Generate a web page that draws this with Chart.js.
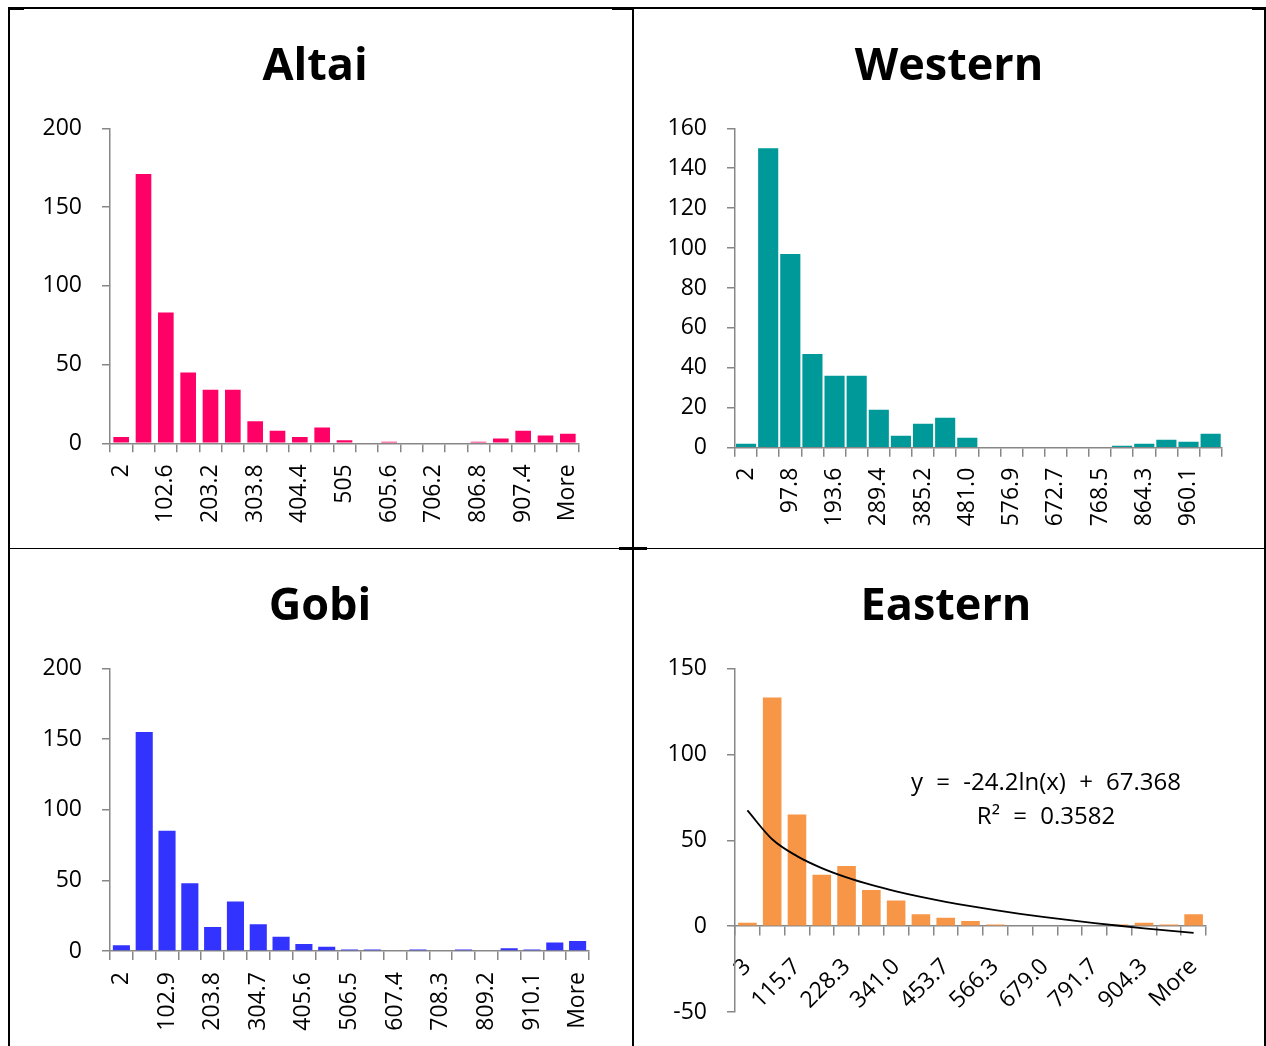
<!DOCTYPE html>
<html>
<head>
<meta charset="utf-8">
<script src="https://cdn.jsdelivr.net/npm/chart.js@4.4.1/dist/chart.umd.min.js"></script>
<style>
  html, body { margin: 0; padding: 0; background: #fff; }
  body { width: 1266px; height: 1046px; position: relative; overflow: hidden; font-family: 'Open Sans', sans-serif; }
  .rule { position: absolute; background: #000; }
  .cell { position: absolute; }
  .cell canvas { display: block; }
</style>
</head>
<body>
<!-- table rules -->
<div class="rule" style="left:8px;top:7px;width:1258px;height:2px"></div>
<div class="rule" style="left:8px;top:7px;width:2px;height:1039px"></div>
<div class="rule" style="left:632px;top:7px;width:2px;height:1039px"></div>
<div class="rule" style="left:1264px;top:7px;width:2px;height:1039px"></div>
<div class="rule" style="left:8px;top:548px;width:1258px;height:1px"></div>
<div class="rule" style="left:10px;top:9px;width:14px;height:1px"></div>
<div class="rule" style="left:612px;top:9px;width:20px;height:1px"></div>
<div class="rule" style="left:1252px;top:9px;width:12px;height:1px"></div>
<div class="rule" style="left:619px;top:547px;width:28px;height:3px"></div>

<div class="cell" style="left:10px;top:9px;width:622px;height:539px"><canvas id="altai"></canvas></div>
<div class="cell" style="left:634px;top:9px;width:630px;height:539px"><canvas id="western"></canvas></div>
<div class="cell" style="left:10px;top:549px;width:622px;height:497px"><canvas id="gobi"></canvas></div>
<div class="cell" style="left:634px;top:549px;width:630px;height:497px"><canvas id="eastern"></canvas></div>

<script>
// ---- histogram bins and counts per region ----
const altaiBins = ['2','52.3','102.6','152.9','203.2','253.5','303.8','354.1','404.4','454.7','505',
  '555.3','605.6','655.9','706.2','756.5','806.8','857.1','907.4','957.7','More'];
const altaiCounts = [4,171,83,45,34,34,14,8,4,10,2,0,1,0,0,0,1,3,8,5,6];

const westernBins = ['2','49.9','97.8','145.7','193.6','241.5','289.4','337.3','385.2','433.1','481.0',
  '529.0','576.9','624.8','672.7','720.6','768.5','816.4','864.3','912.2','960.1','More'];
const westernCounts = [2,150,97,47,36,36,19,6,12,15,5,0,0,0,0,0,0,1,2,4,3,7];

const gobiBins = ['2','52.5','102.9','153.4','203.8','254.3','304.7','355.2','405.6','456.1','506.5',
  '557.0','607.4','657.9','708.3','758.8','809.2','859.7','910.1','960.6','More'];
const gobiCounts = [4,155,85,48,17,35,19,10,5,3,1,1,0,1,0,1,0,2,1,6,7];

const easternBins = ['3','59.3','115.7','172.0','228.3','284.7','341.0','397.3','453.7','510.0',
  '566.3','622.7','679.0','735.3','791.7','848.0','904.3','960.7','More'];
const easternCounts = [2,133,65,30,35,21,15,7,5,3,1,0,0,0,0,1,2,1,7];

// logarithmic trendline fitted to the Eastern counts (x = bin number)
const trendSlope = -24.2;
const trendIntercept = 67.368;
const trendRSquared = '0.3582';
const easternTrend = easternBins.map((_, i) => trendSlope * Math.log(i + 1) + trendIntercept);

// ---- shared styling ----
const AXIS = '#878787';
const FONT = 'Open Sans';
const tickFont = { family: FONT, size: 23 };

// centre the title on a given x instead of the padded canvas width
const titleCentre = {
  id: 'titleCentre',
  afterLayout(chart, args, opts) {
    const t = chart.titleBlock;
    if (!t || opts.x == null) return;
    const dx = opts.x - (t.left + t.right) / 2;
    t.left += dx;
    t.right += dx;
  }
};

function histogram(id, cfg) {
  const datasets = [{
    type: 'bar',
    data: cfg.counts,
    backgroundColor: cfg.color,
    borderWidth: 0,
    barPercentage: cfg.barPct,
    categoryPercentage: 1,
    order: 1
  }];
  if (cfg.extra) datasets.push(cfg.extra);

  const xScale = {
    type: 'category',
    offset: true,
    grid: { display: true, drawOnChartArea: false, drawTicks: true, tickLength: 9,
            color: AXIS, lineWidth: 1.5, offset: true },
    border: { display: true, color: AXIS, width: 1.5 },
    ticks: {
      autoSkip: false,
      minRotation: cfg.rotation, maxRotation: cfg.rotation,
      padding: cfg.xPad,
      color: '#000',
      font: tickFont,
      callback(value, index) { return index % 2 === 0 ? this.getLabelForValue(value) : ''; }
    },
    afterFit(scale) { scale.height = cfg.xHeight; }
  };
  if (cfg.xAtZero) xScale.position = { y: 0 };

  return new Chart(document.getElementById(id), {
    type: 'bar',
    data: { labels: cfg.bins, datasets },
    options: {
      responsive: true,
      maintainAspectRatio: false,
      animation: false,
      events: [],
      layout: { padding: { left: cfg.padLeft, right: cfg.padRight, top: 0, bottom: cfg.padBottom } },
      plugins: {
        legend: { display: false },
        tooltip: { enabled: false },
        title: {
          display: true,
          text: cfg.title,
          color: '#000',
          font: { family: FONT, size: 45, weight: 'bold', lineHeight: 1.2 },
          padding: { top: 31.3, bottom: 34 }
        },
        titleCentre: { x: cfg.titleX }
      },
      scales: {
        x: xScale,
        y: {
          min: cfg.yMin, max: cfg.yMax,
          grid: { display: true, drawOnChartArea: false, drawTicks: true, tickLength: 8,
                  color: AXIS, lineWidth: 1.5 },
          border: { display: true, color: AXIS, width: 1.5 },
          ticks: { stepSize: cfg.yStep, padding: 20, color: '#000', font: tickFont },
          afterFit(scale) { scale.width = cfg.yWidth; }
        }
      }
    },
    plugins: [titleCentre].concat(cfg.plugins || [])
  });
}

// trendline equation text
const equationLabel = {
  id: 'equationLabel',
  afterDatasetsDraw(chart) {
    const { ctx, chartArea } = chart;
    ctx.save();
    ctx.fillStyle = '#000';
    ctx.font = '24px "Open Sans"';
    ctx.textAlign = 'center';
    ctx.textBaseline = 'alphabetic';
    if ('wordSpacing' in ctx) ctx.wordSpacing = '7px';
    const cx = chartArea.left + 311;
    ctx.fillText('y = -24.2ln(x) + 67.368', cx, chartArea.top + 122);
    ctx.fillText('R\u00B2 = ' + trendRSquared, cx, chartArea.top + 156);
    ctx.restore();
  }
};

histogram('altai', {
  title: 'Altai', titleX: 305, bins: altaiBins, counts: altaiCounts, color: '#FF0066', barPct: 0.70,
  yMin: 0, yMax: 200, yStep: 50, rotation: 90, xPad: 12,
  padLeft: 10, yWidth: 90, padRight: 53, padBottom: 0, xHeight: 104.7
});

histogram('western', {
  title: 'Western', titleX: 315, bins: westernBins, counts: westernCounts, color: '#009999', barPct: 0.91,
  yMin: 0, yMax: 160, yStep: 20, rotation: 90, xPad: 11,
  padLeft: 11, yWidth: 90, padRight: 42.3, padBottom: 0, xHeight: 100.3
});

histogram('gobi', {
  title: 'Gobi', titleX: 310, bins: gobiBins, counts: gobiCounts, color: '#3333FF', barPct: 0.75,
  yMin: 0, yMax: 200, yStep: 50, rotation: 90, xPad: 12,
  padLeft: 10, yWidth: 90, padRight: 43, padBottom: 0, xHeight: 95
});

histogram('eastern', {
  title: 'Eastern', titleX: 312, bins: easternBins, counts: easternCounts, color: '#F79646', barPct: 0.75,
  yMin: -50, yMax: 150, yStep: 50, rotation: 45, xPad: 18,
  padLeft: 11, yWidth: 90, padRight: 58, padBottom: 32.3, xHeight: 0, xAtZero: true,
  extra: {
    type: 'line',
    data: easternTrend,
    borderColor: '#000',
    borderWidth: 1.8,
    pointRadius: 0,
    fill: false,
    cubicInterpolationMode: 'monotone',
    order: 0
  },
  plugins: [equationLabel]
});
</script>
</body>
</html>
